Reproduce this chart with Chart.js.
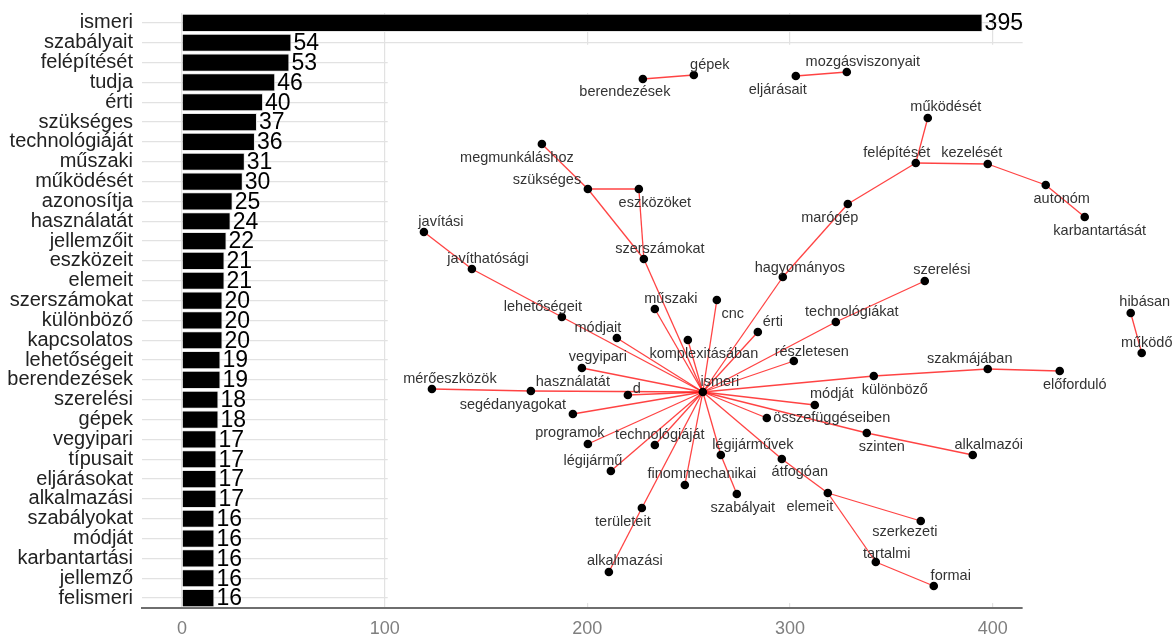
<!DOCTYPE html>
<html>
<head>
<meta charset="utf-8">
<script src="https://cdn.jsdelivr.net/npm/chart.js@4.4.1/dist/chart.umd.min.js"></script>
<style>
  html, body { margin: 0; padding: 0; background: #fff; }
</style>
</head>
<body>
<canvas id="chart" width="1176" height="637"></canvas>
<script>
// word frequencies (bars)
const words = ["ismeri", "szabályait", "felépítését", "tudja", "érti", "szükséges", "technológiáját",
  "műszaki", "működését", "azonosítja", "használatát", "jellemzőit", "eszközeit", "elemeit",
  "szerszámokat", "különböző", "kapcsolatos", "lehetőségeit", "berendezések", "szerelési", "gépek",
  "vegyipari", "típusait", "eljárásokat", "alkalmazási", "szabályokat", "módját", "karbantartási",
  "jellemző", "felismeri"];
const counts = [395, 54, 53, 46, 40, 37, 36, 31, 30, 25, 24, 22, 21, 21, 20, 20, 20, 19, 19, 18, 18,
  17, 17, 17, 17, 16, 16, 16, 16, 16];
const xTicks = [0, 100, 200, 300, 400];

// bigram network: node layout
const nodeNames = ["ismeri", "berendezések", "gépek", "eljárásait", "mozgásviszonyait", "megmunkáláshoz",
  "szükséges", "eszközöket", "szerszámokat", "javítási", "javíthatósági", "lehetőségeit", "műszaki", "cnc",
  "hagyományos", "marógép", "felépítését", "működését", "kezelését", "autonóm", "karbantartását", "érti",
  "szerelési", "technológiákat", "módjait", "komplexitásában", "vegyipari", "mérőeszközök", "használatát",
  "d", "segédanyagokat", "programok", "technológiáját", "légijármű", "finommechanikai", "légijárművek",
  "szabályait", "területeit", "alkalmazási", "átfogóan", "elemeit", "szerkezeti", "tartalmi", "formai",
  "összefüggéseiben", "szinten", "alkalmazói", "módját", "részletesen", "különböző", "szakmájában",
  "előforduló", "hibásan", "működő"];
const nodeX = [561, 501, 552, 654, 705, 400, 446, 497, 502, 282, 330, 420, 513, 575, 641, 706, 774, 786,
  846, 904, 943, 616, 783, 694, 475, 546, 440, 290, 389, 486, 431, 446, 513, 469, 543, 579, 595, 500, 467,
  640, 686, 779, 734, 792, 625, 725, 831, 673, 652, 732, 846, 918, 989, 1000];
const nodeY = [380, 67, 63, 64, 60, 132, 177, 177, 247, 220, 257, 305, 297, 288, 265, 192, 151, 106, 152,
  173, 205, 320, 269, 310, 326, 328, 356, 377, 379, 383, 402, 432, 433, 459, 473, 443, 482, 496, 560, 447,
  481, 509, 550, 574, 406, 421, 443, 393, 349, 364, 357, 359, 301, 341];
const labelX = [578, 483, 568, 636, 721, 375, 405, 513, 518, 299, 346, 401, 529, 591, 658, 688, 755, 804,
  830, 920, 958, 631, 800, 710, 456, 562, 456, 308, 431, 495, 371, 428, 518, 451, 560, 611, 601, 481, 483,
  658, 668, 763, 745, 809, 690, 740, 847, 690, 670, 753, 828, 933, 1003, 1005];
const labelY = [370, 80, 53, 78, 50, 146, 168, 191, 237, 210, 247, 295, 287, 302, 256, 206, 141, 95, 141,
  187, 219, 310, 258, 300, 316, 342, 345, 367, 370, 377, 393, 421, 423, 449, 462, 433, 496, 510, 549, 460,
  495, 520, 542, 564, 406, 435, 433, 382, 340, 378, 347, 373, 290, 331];
const edges = [
  ["berendezések", "gépek"], ["eljárásait", "mozgásviszonyait"], ["megmunkáláshoz", "szükséges"],
  ["szükséges", "eszközöket"], ["szükséges", "szerszámokat"], ["eszközöket", "szerszámokat"],
  ["szerszámokat", "ismeri"], ["javítási", "javíthatósági"], ["javíthatósági", "lehetőségeit"],
  ["lehetőségeit", "ismeri"], ["műszaki", "ismeri"], ["cnc", "ismeri"], ["hagyományos", "ismeri"],
  ["hagyományos", "marógép"], ["marógép", "felépítését"], ["felépítését", "működését"],
  ["felépítését", "kezelését"], ["kezelését", "autonóm"], ["autonóm", "karbantartását"],
  ["érti", "ismeri"], ["szerelési", "technológiákat"], ["technológiákat", "ismeri"],
  ["módjait", "ismeri"], ["komplexitásában", "ismeri"], ["vegyipari", "ismeri"],
  ["mérőeszközök", "használatát"], ["használatát", "ismeri"], ["d", "ismeri"],
  ["segédanyagokat", "ismeri"], ["programok", "ismeri"], ["technológiáját", "ismeri"],
  ["légijármű", "ismeri"], ["finommechanikai", "ismeri"], ["légijárművek", "ismeri"],
  ["légijárművek", "szabályait"], ["területeit", "ismeri"], ["alkalmazási", "területeit"],
  ["átfogóan", "ismeri"], ["átfogóan", "elemeit"], ["elemeit", "szerkezeti"], ["elemeit", "tartalmi"],
  ["tartalmi", "formai"], ["összefüggéseiben", "ismeri"], ["szinten", "ismeri"],
  ["szinten", "alkalmazói"], ["módját", "ismeri"], ["részletesen", "ismeri"], ["különböző", "ismeri"],
  ["különböző", "szakmájában"], ["szakmájában", "előforduló"], ["hibásan", "működő"]
];

const FONT = "'Liberation Sans', Arial, sans-serif";
Chart.defaults.font.family = FONT;

// visible end of the bar panel (value units)
const panelMin = -19.73;
const panelMax = 414.75;

function nodePoint(name) {
  const i = nodeNames.indexOf(name);
  return { x: nodeX[i], y: nodeY[i] };
}

// white panel that holds the network, and the strip right of the bar panel
const networkPanel = {
  id: "networkPanel",
  beforeDatasetsDraw(chart) {
    const { ctx, width, chartArea } = chart;
    const { x, y } = chart.scales;
    const band = y.getPixelForValue(1) - y.getPixelForValue(0);
    const left = x.getPixelForValue(101.5);
    const top = y.getPixelForValue(1) + band * 0.1;
    const bottom = y.getPixelForValue(words.length - 1) + band * 0.25;
    const panelRight = x.getPixelForValue(panelMax);
    ctx.save();
    ctx.fillStyle = "#fff";
    ctx.fillRect(left, top, width - left, bottom - top);
    ctx.fillRect(panelRight, 0, width - panelRight, chartArea.bottom + 4);
    ctx.restore();
  }
};

const barValues = {
  id: "barValues",
  afterDatasetsDraw(chart) {
    const { ctx } = chart;
    const meta = chart.getDatasetMeta(0);
    ctx.save();
    ctx.font = "23px " + FONT;
    ctx.fillStyle = "#000";
    ctx.textAlign = "left";
    ctx.textBaseline = "middle";
    meta.data.forEach((bar, i) => {
      ctx.fillText(String(counts[i]), bar.x + 2, bar.y + 1);
    });
    ctx.restore();
  }
};

const nodeLabels = {
  id: "nodeLabels",
  afterDatasetsDraw(chart) {
    const { ctx } = chart;
    const { nx, ny } = chart.scales;
    ctx.save();
    ctx.font = "14.5px " + FONT;
    ctx.fillStyle = "#333";
    ctx.textAlign = "center";
    ctx.textBaseline = "middle";
    nodeNames.forEach((name, i) => {
      ctx.fillText(name, nx.getPixelForValue(labelX[i]), ny.getPixelForValue(labelY[i]));
    });
    ctx.restore();
  }
};

const edgeSets = edges.map(([a, b]) => ({
  type: "line",
  xAxisID: "nx",
  yAxisID: "ny",
  indexAxis: "x",
  data: [nodePoint(a), nodePoint(b)],
  borderColor: "rgba(255, 20, 20, 0.8)",
  borderWidth: 1.3,
  pointRadius: 0,
  fill: false,
  clip: false,
  order: 2
}));

new Chart(document.getElementById("chart"), {
  type: "bar",
  data: {
    labels: words,
    datasets: [
      {
        data: counts,
        xAxisID: "x",
        yAxisID: "y",
        grouped: false,
        backgroundColor: "#000",
        borderColor: "#e6e6e6",
        borderWidth: 1,
        barPercentage: 0.92,
        categoryPercentage: 1,
        order: 3
      },
      {
        type: "scatter",
        xAxisID: "nx",
        yAxisID: "ny",
        indexAxis: "x",
        data: nodeNames.map((n, i) => ({ x: nodeX[i], y: nodeY[i] })),
        backgroundColor: "#000",
        borderWidth: 0,
        pointRadius: 4.3,
        clip: false,
        order: 0
      },
      ...edgeSets
    ]
  },
  options: {
    indexAxis: "y",
    responsive: false,
    animation: false,
    devicePixelRatio: 1,
    layout: { padding: { top: 13, right: 4, left: 0, bottom: 0 } },
    plugins: { legend: { display: false }, tooltip: { enabled: false } },
    scales: {
      x: {
        type: "linear",
        position: "bottom",
        offset: false,
        min: panelMin,
        max: 488.3,
        afterBuildTicks: (scale) => { scale.ticks = xTicks.map((v) => ({ value: v })); },
        afterFit: (scale) => { scale.height = 29; scale.paddingLeft = 0; scale.paddingRight = 0; },
        ticks: { color: "#7f7f7f", font: { size: 18 }, padding: 10 },
        grid: { color: "#e2e2e2", lineWidth: 1.2, drawTicks: false },
        border: { display: true, color: "#6e6e6e", width: 2 }
      },
      y: {
        type: "category",
        position: "left",
        offset: true,
        afterFit: (scale) => { scale.width = 142; scale.paddingTop = 0; scale.paddingBottom = 0; },
        ticks: { color: "#222", font: { size: 20 }, padding: 9, autoSkip: false },
        grid: { offset: false, color: "#e2e2e2", lineWidth: 1.2, drawTicks: false },
        border: { display: false }
      },
      nx: { type: "linear", axis: "x", position: "bottom", display: false, offset: false, min: 0, max: 1030 },
      ny: { type: "linear", axis: "y", position: "left", display: false, offset: false, min: 1, max: 596, reverse: true }
    }
  },
  plugins: [networkPanel, barValues, nodeLabels]
});
</script>
</body>
</html>
